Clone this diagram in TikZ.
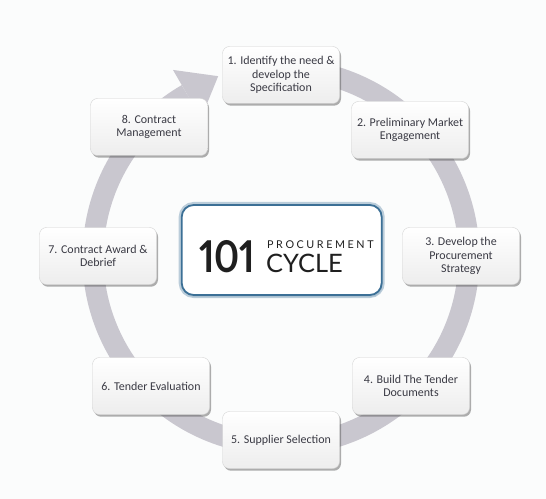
\documentclass[tikz,border=0pt]{standalone}
\usepackage{fontspec}
\setmainfont{Carlito}
\newfontfamily\latofont{Lato}[Numbers=Proportional]
\newfontfamily\latospaced{Lato}[LetterSpace=24]
\usetikzlibrary{shadows,calc}
\definecolor{ringc}{RGB}{201,199,207}
\definecolor{txt}{RGB}{58,58,68}
\definecolor{bord}{RGB}{60,112,150}
\definecolor{bg}{RGB}{251,252,252}
\tikzset{
 stepbox/.style={rounded corners=7bp, minimum width=117bp, minimum height=57bp, align=center,
   text=txt, font=\fontsize{12}{13.5}\selectfont, top color=white, bottom color=gray!14,
   draw=gray!35, line width=0.4bp, inner sep=2bp,
   drop shadow={shadow xshift=1.5bp, shadow yshift=-2.2bp, opacity=0.45, fill=black!70}},
 ringline/.style={line width=21bp, draw=ringc},
 hubtext/.style={anchor=base west, inner sep=0pt, text=black!88},
}
\begin{document}
\begin{tikzpicture}[x=1bp,y=1bp]
\fill[bg] (0,0) rectangle (546,-499);
\useasboundingbox (0,0) rectangle (546,-499);
\coordinate (C) at (281,-257);
\draw[ringline] ($(C)+(80:188bp)$) arc[start angle=80, end angle=-240, radius=188bp];
\coordinate (B) at ($(C)+(120:188bp)$);
\fill[ringc] ($(B)+(120:28bp)$) -- ($(B)+(30:36bp)$) -- ($(B)+(300:28bp)$) -- cycle;

\node[stepbox] (s1) at (281,-75) {1. Identify the need \&\\develop the\\Specification};
\node[stepbox] (s2) at (410,-130) {2. Preliminary Market\\Engagement};
\node[stepbox] (s3) at (461,-256) {3. Develop the\\Procurement\\Strategy};
\node[stepbox] (s4) at (411,-386) {4. Build The Tender\\Documents};
\node[stepbox] (s5) at (281,-440) {5. Supplier Selection};
\node[stepbox] (s6) at (151,-386) {6. Tender Evaluation};
\node[stepbox] (s7) at (98,-256) {7. Contract Award \&\\Debrief};
\node[stepbox] (s8) at (149,-127) {8. Contract\\Management};

\node[draw=bord, line width=1.8bp, rounded corners=12bp, fill=white,
  minimum width=200bp, minimum height=90bp,
  preaction={draw=bord!35, line width=6bp},
  drop shadow={shadow xshift=1bp, shadow yshift=-2bp, opacity=0.35, fill=bord!60}] (hub) at (281.7,-250) {};
\node[hubtext, font=\latofont\bfseries\fontsize{44}{44}\selectfont] (n101) at (199,-272) {\scalebox{0.86}[1]{101}};
\node[hubtext, font=\latospaced\fontsize{10.8}{10.8}\selectfont] (proc) at (267,-248) {PROCUREMENT};
\node[hubtext, font=\latofont\fontsize{25.5}{25.5}\selectfont] (cyc) at (266,-272) {CYCLE};
\end{tikzpicture}
\end{document}
